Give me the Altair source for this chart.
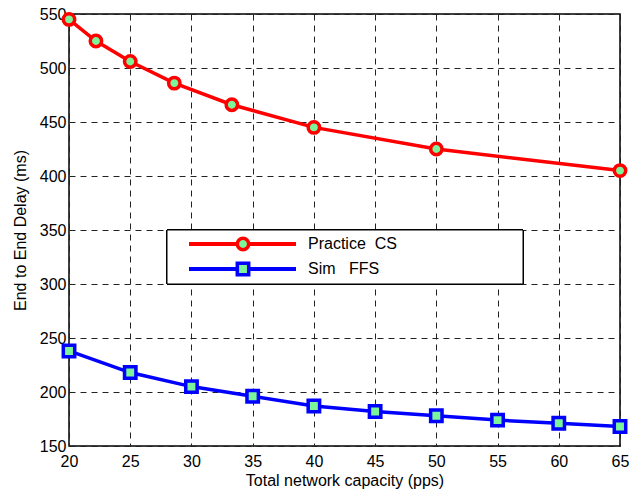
import altair as alt
import pandas as pd

cs_x = [20, 22.2, 25, 28.6, 33.3, 40, 50, 65]
cs_y = [545, 525, 506, 486, 466, 445, 425, 405]
ffs_x = [20, 25, 30, 35, 40, 45, 50, 55, 60, 65]
ffs_y = [238, 218, 205, 196, 187, 182, 178, 174, 171, 168]

cs = pd.DataFrame({"x": cs_x, "y": cs_y})
ffs = pd.DataFrame({"x": ffs_x, "y": ffs_y})

FONT = "Liberation Sans"
GREEN = "#7cf59a"
FS = 16

xs = alt.Scale(domain=[20, 65], nice=False, zero=False)
ys = alt.Scale(domain=[150, 550], nice=False, zero=False)

xax = alt.Axis(values=list(range(20, 66, 5)), grid=True, gridDash=[6, 5], gridColor="#222222",
               gridOpacity=1, gridWidth=1, ticks=False, domain=False, labelFontSize=FS,
               labelFont=FONT, labelColor="black", labelPadding=7, labelFlush=False,
               titleFont=FONT, titleFontSize=FS, titleFontWeight="normal", titleColor="black",
               titlePadding=3, title="Total network capacity (pps)")
yax = alt.Axis(values=list(range(150, 551, 50)), grid=True, gridDash=[6, 5], gridColor="#222222",
               gridOpacity=1, gridWidth=1, ticks=False, domain=False, labelFontSize=FS,
               labelFont=FONT, labelColor="black", labelPadding=3, labelFlush=False,
               titleFont=FONT, titleFontSize=FS, titleFontWeight="normal", titleColor="black",
               titlePadding=11, title="End to End Delay (ms)")

base_cs = alt.Chart(cs).encode(x=alt.X("x:Q", scale=xs, axis=xax), y=alt.Y("y:Q", scale=ys, axis=yax))
base_ffs = alt.Chart(ffs).encode(x=alt.X("x:Q", scale=xs), y=alt.Y("y:Q", scale=ys))

cs_line = base_cs.mark_line(color="#ff0000", strokeWidth=3.5)
cs_pts = base_cs.mark_point(shape="circle", filled=True, fill=GREEN, stroke="#ff0000",
                            strokeWidth=3.5, size=130, opacity=1)
ffs_line = base_ffs.mark_line(color="#0000ff", strokeWidth=3.5)
ffs_pts = base_ffs.mark_point(shape="square", filled=True, fill=GREEN, stroke="#0000ff",
                              strokeWidth=3.5, size=130, opacity=1)

# legend (layout only)
leg_box = alt.Chart(cs).mark_rect(fill="white", stroke="black", strokeWidth=1).encode(
    x=alt.value(98), x2=alt.value(454), y=alt.value(216), y2=alt.value(270))
leg_r1 = alt.Chart(cs).mark_rule(color="#ff0000", strokeWidth=3.5).encode(
    x=alt.value(120), x2=alt.value(227), y=alt.value(230))
leg_r2 = alt.Chart(cs).mark_rule(color="#0000ff", strokeWidth=3.5).encode(
    x=alt.value(120), x2=alt.value(227), y=alt.value(255))
leg_p1 = alt.Chart(cs.head(1)).mark_point(shape="circle", filled=True, fill=GREEN, stroke="#ff0000",
                                          strokeWidth=3.5, size=130, opacity=1).encode(
    x=alt.value(174), y=alt.value(230))
leg_p2 = alt.Chart(cs.head(1)).mark_point(shape="square", filled=True, fill=GREEN, stroke="#0000ff",
                                          strokeWidth=3.5, size=130, opacity=1).encode(
    x=alt.value(174), y=alt.value(255))
leg_t1 = alt.Chart(cs.head(1)).mark_text(text="Practice\u00a0\u00a0CS", align="left", baseline="middle",
                                         font=FONT, fontSize=FS, color="black").encode(
    x=alt.value(239), y=alt.value(230))
leg_t2 = alt.Chart(cs.head(1)).mark_text(text="Sim\u00a0\u00a0\u00a0FFS", align="left", baseline="middle",
                                         font=FONT, fontSize=FS, color="black").encode(
    x=alt.value(239), y=alt.value(255))

chart = alt.layer(cs_line, ffs_line, cs_pts, ffs_pts, leg_box, leg_r1, leg_r2, leg_p1, leg_p2,
                  leg_t1, leg_t2).properties(
    width=551, height=432,
    autosize=alt.AutoSizeParams(type="none"),
    padding={"left": 69, "top": 14, "right": 9, "bottom": 47},
    background="white",
).configure_view(stroke="black", strokeWidth=1.5)

chart.save("out.html", embed_options={"renderer": "svg", "actions": False})
